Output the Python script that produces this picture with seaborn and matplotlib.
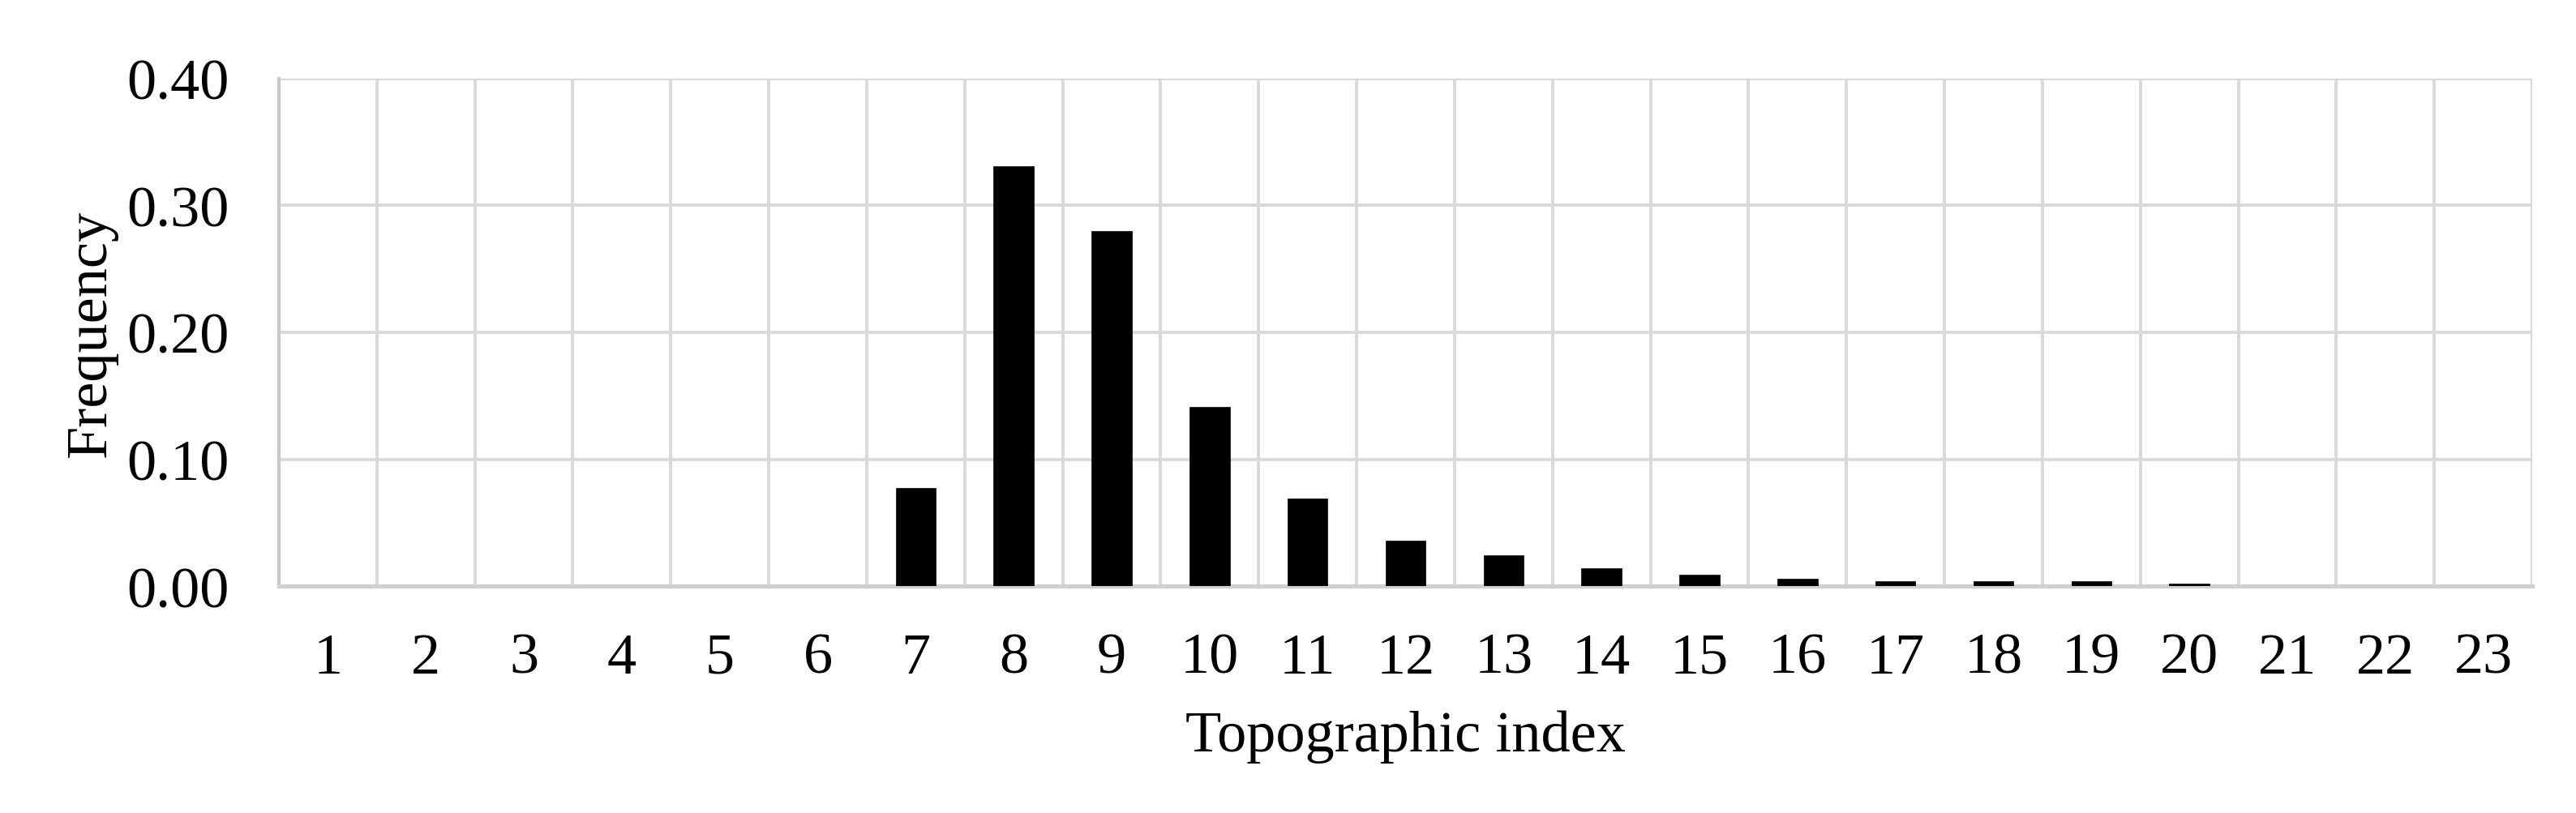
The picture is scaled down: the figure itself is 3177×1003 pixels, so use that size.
import matplotlib
matplotlib.use("Agg")
import matplotlib.pyplot as plt
import seaborn as sns
import pandas as pd
import numpy as np
from matplotlib.ticker import FixedLocator, MultipleLocator, FormatStrFormatter

# ---- data ----
topo_index = [str(i) for i in range(1, 24)]
frequency = [0.0, 0.0, 0.0, 0.0, 0.0, 0.0, 0.077, 0.331, 0.280, 0.141,
             0.069, 0.036, 0.024, 0.014, 0.009, 0.006, 0.004, 0.004,
             0.004, 0.002, 0.0, 0.0, 0.0]
x_label = "Topographic index"
y_label = "Frequency"

df = pd.DataFrame({"index": topo_index, "freq": frequency})

sns.set_theme(style="white")
plt.rcParams["font.family"] = ["Liberation Serif", "DejaVu Serif"]

fig = plt.figure(figsize=(31.77, 10.04), dpi=100)
ax = fig.add_axes([344 / 3177, 1 - 724 / 1004, (3123 - 344) / 3177, (724 - 98) / 1004])

sns.barplot(data=df, x="index", y="freq", order=topo_index, color="black",
            width=0.41, saturation=1, edgecolor="black", linewidth=0.5, ax=ax, zorder=3)

ax.set_xlim(-0.5, len(topo_index) - 0.5)
ax.set_ylim(0, 0.40)
ax.yaxis.set_major_locator(MultipleLocator(0.10))
ax.yaxis.set_major_formatter(FormatStrFormatter("%.2f"))
ax.xaxis.set_minor_locator(FixedLocator(np.arange(-0.5, len(topo_index), 1.0)))

grid_c = "#d9d9d9"
ax.grid(axis="y", which="major", color=grid_c, linewidth=2.8, zorder=0)
ax.grid(axis="x", which="minor", color=grid_c, linewidth=2.8, zorder=0)
ax.grid(axis="x", which="major", visible=False)
ax.set_axisbelow(True)

for side in ["top", "right"]:
    ax.spines[side].set_visible(False)
ax.spines["left"].set_color("#c8c8c8")
ax.spines["left"].set_linewidth(3.0)
ax.spines["bottom"].set_color("#d0d0d0")
ax.spines["bottom"].set_linewidth(3.8)

ax.tick_params(axis="both", which="both", length=0, labelsize=52,
               colors="black", labelcolor="black")
ax.tick_params(axis="y", pad=44)
ax.tick_params(axis="x", pad=41)

ax.set_xlabel(x_label, fontsize=52, labelpad=22, color="black")
ax.set_ylabel(y_label, fontsize=52, labelpad=8, color="black")

fig.savefig("out.png", dpi=100, facecolor="white")
